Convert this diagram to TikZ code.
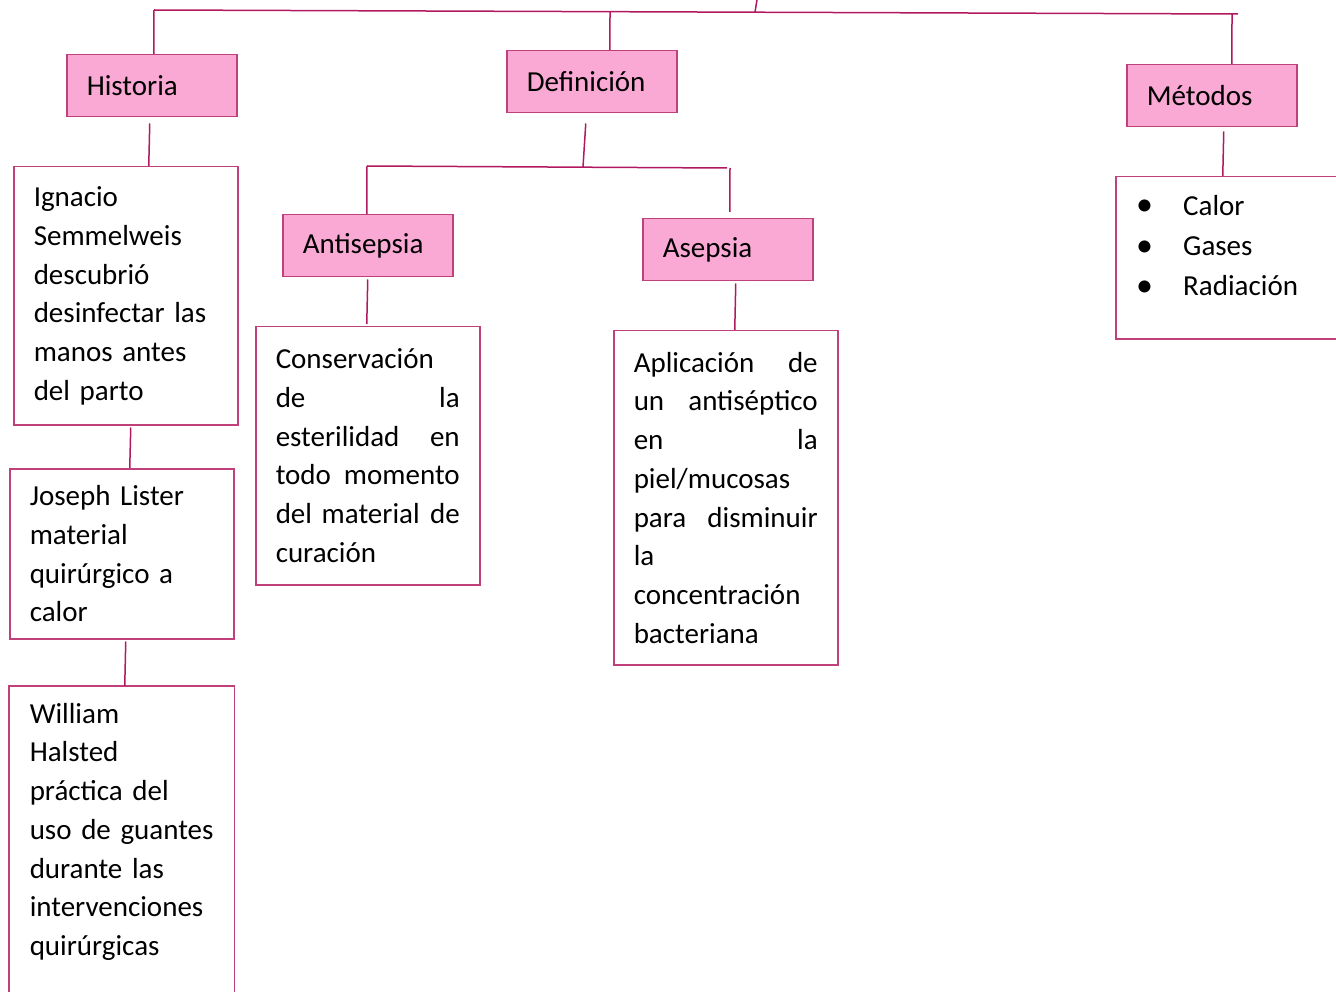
\documentclass[tikz,border=0pt]{standalone}
\usepackage{fontspec}
\setmainfont{Carlito}
\usetikzlibrary{positioning,calc}
\definecolor{linkred}{RGB}{176,24,96}
\definecolor{boxline}{RGB}{192,64,124}
\definecolor{headpink}{RGB}{250,168,212}
\newcommand{\jline}[2]{\makebox[184pt]{#1\hfill#2}}
\newcommand{\bul}{\makebox[47pt][l]{\fontsize{34}{34}\selectfont\raisebox{-1pt}{•}}}

\begin{document}
\begin{tikzpicture}[x=1pt,y=-1pt,
  every node/.style={font=\fontsize{29}{38.7}\selectfont},
  head/.style={draw=boxline,fill=headpink,line width=1.5pt,anchor=north west,
    minimum width=170pt,minimum height=62pt,text width=130pt,inner xsep=20pt,align=left},
  info/.style={draw=boxline,line width=1.5pt,anchor=north west,
    minimum width=224pt,text width=184pt,inner xsep=20pt,align=left},
  link/.style={draw=linkred,line width=1.5pt}]
  \useasboundingbox (0,0) rectangle (1336,992);
  \clip (0,0) rectangle (1336,992);

  % headings
  \node[head] (historia) at (66,54) {Historia};
  \node[head] (definicion) at (506,50) {Definición};
  \node[head] (metodos) at (1126,64) {Métodos};
  \node[head] (antisepsia) at (282,214) {Antisepsia};
  \node[head] (asepsia) at (642,218) {Asepsia};

  % history column
  \node[info,minimum height=258pt] (semmelweis) at (13,166)
    {Ignacio\\Semmelweis\\descubrió\\desinfectar las\\manos antes\\del parto};
  \node[info,minimum height=170pt] (lister) at (9,468)
    {Joseph Lister\\material\\quirúrgico a\\calor};
  \node[info,draw=none,minimum height=290pt] (halsted) at (9,686)
    {William\\Halsted\\práctica del\\uso de guantes\\durante las\\intervenciones\\quirúrgicas};
  \draw[draw=boxline,line width=1.5pt] ([yshift=-40pt]halsted.south west) -- (halsted.north west)
    -- (halsted.north east) -- ([yshift=-40pt]halsted.south east);

  % definitions
  \node[info,minimum height=258pt] (conservacion) at (255,326)
    {Conservación\\\jline{de}{la}\\\jline{esterilidad}{en}\\\jline{todo}{momento}\\\jline{del material}{de}\\curación};
  \node[info,minimum height=334pt] (aplicacion) at (613,330)
    {\jline{Aplicación}{de}\\\jline{un}{antiséptico}\\\jline{en}{la}\\piel/mucosas\\\jline{para}{disminuir}\\la\\concentración\\bacteriana};

  % methods
  \node[info,minimum height=162pt] (methodsbox) at (1115,176) {};
  \node[anchor=base west,align=left,inner sep=0pt,font=\fontsize{29}{40.5}\selectfont] (methodslist)
    at (1136,296) {\bul Calor\\\bul Gases\\\bul Radiación};

  % connectors
  \coordinate (barT) at (757,0);
  \coordinate (barL) at (154,10);
  \coordinate (barR) at (1238,14);
  \draw[link] (barL) -- (barR);
  \draw[link] (barT) -- ($(barL)!0.5544!(barR)$);
  \draw[link] (barL) -- ([xshift=2pt]historia.north);
  \draw[link] ($(barL)!0.4207!(barR)$) -- ([xshift=18pt]definicion.north);
  \draw[link] ($(barL)!0.9945!(barR)$) -- ([xshift=20pt]metodos.north);

  \draw[link] ([xshift=-2pt,yshift=-6pt]historia.south) -- ([xshift=23pt]semmelweis.north);
  \draw[link] ([xshift=5pt,yshift=-2pt]semmelweis.south) -- ([xshift=8pt]lister.north);
  \draw[link] ([xshift=4pt,yshift=-2pt]lister.south) -- ([xshift=3pt]halsted.north);

  \coordinate (defL) at (367,166);
  \coordinate (defR) at (727,168);
  \draw[link] ([xshift=-6pt,yshift=-10pt]definicion.south) -- ($(defL)!0.6!(defR)$);
  \draw[link] (defL) -- (defR);
  \draw[link] (defL) -- ([xshift=-1pt]antisepsia.north);
  \draw[link] ([xshift=3pt]defR) -- ([xshift=2pt,yshift=6pt]asepsia.north);
  \draw[link] ([yshift=-2pt]antisepsia.south) -- ([xshift=-1pt,yshift=2pt]conservacion.north);
  \draw[link] ([xshift=8pt,yshift=-2pt]asepsia.south) -- ([xshift=9pt]aplicacion.north);
  \draw[link] ([xshift=12pt,yshift=-4pt]metodos.south) -- ([xshift=-5pt]methodsbox.north);
\end{tikzpicture}
\end{document}
